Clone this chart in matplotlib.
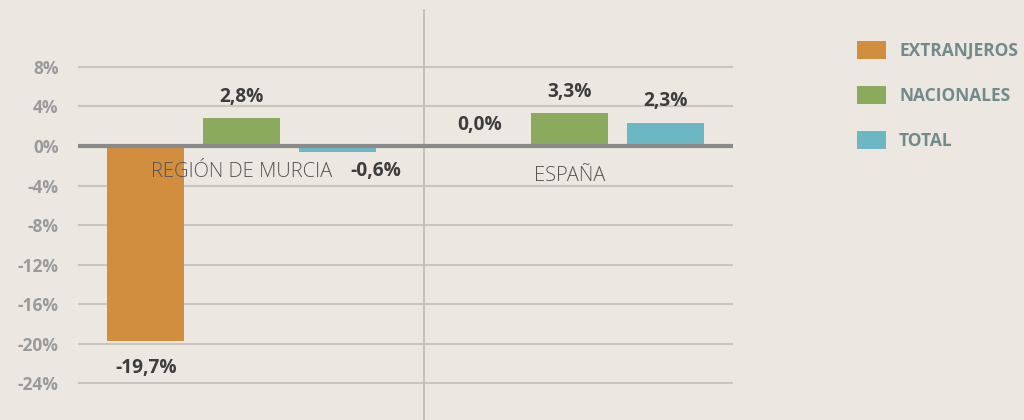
import numpy as np
import matplotlib as mpl
import matplotlib.pyplot as plt
from matplotlib.patches import Patch

mpl.rcParams['font.family'] = 'Open Sans'

# Data
categories = ['REGIÓN DE MURCIA', 'ESPAÑA']
series = ['EXTRANJEROS', 'NACIONALES', 'TOTAL']
extranjeros = [-19.7, 0.0]
nacionales = [2.8, 3.3]
total = [-0.6, 2.3]
yticks = [8, 4, 0, -4, -8, -12, -16, -20, -24]

colors = ['#D08E3E', '#8BAA5E', '#6DB7C4']
bg = '#ECE7E1'

fig = plt.figure(figsize=(10.24, 4.2), dpi=100, facecolor=bg)
ax = fig.add_axes([78 / 1024, 0, 655 / 1024, 1])
ax.set_facecolor(bg)

x = np.arange(len(categories))
w = 0.235
step = 0.293
values = [extranjeros, nacionales, total]
for i, (vals, c) in enumerate(zip(values, colors)):
    ax.bar(x + (i - 1) * step, vals, w, color=c, zorder=2)

ax.set_ylim(-27.7, 14.75)
ax.set_xlim(-0.5, 1.5)

# grid
for t in yticks:
    if t != 0:
        ax.axhline(t, color='#C9C5C0', lw=1.5, zorder=1)
ax.axhline(0, color='#8A8A8A', lw=3, zorder=3)
ax.axvline(0.556, ymax=1 - 10 / 420, color='#BDB9B4', lw=1.2, zorder=1)

ax.set_yticks(yticks)
ax.set_yticklabels([f'{t}%' for t in yticks], fontsize=12.5, fontweight='bold', color='#9A9A9A')
ax.tick_params(axis='y', length=0, pad=14)
ax.set_xticks([])
for s in ax.spines.values():
    s.set_visible(False)

# category labels
ax.text(x[0], -2.6, categories[0], ha='center', va='center', fontsize=14.5,
        fontweight='light', color='#555555', zorder=4)
ax.text(x[1], -3.0, categories[1], ha='center', va='center', fontsize=14.5,
        fontweight='light', color='#555555', zorder=4)

# value labels
lab = dict(fontsize=13.8, fontweight='bold', color='#3D3D3D', ha='center', va='center', zorder=4)
def fmt(v):
    return f'{v:.1f}%'.replace('.', ',')

ax.text(x[0] - step, extranjeros[0] - 2.7, fmt(extranjeros[0]), **lab)
ax.text(x[0], nacionales[0] + 2.15, fmt(nacionales[0]), **lab)
ax.text(x[0] + step + 0.116, total[0] - 1.9, fmt(total[0]), **lab)
ax.text(x[1] - step + 0.02, 2.1, fmt(extranjeros[1]), **lab)
ax.text(x[1], nacionales[1] + 2.15, fmt(nacionales[1]), **lab)
ax.text(x[1] + step, total[1] + 2.25, fmt(total[1]), **lab)

# legend
handles = [Patch(facecolor=c, edgecolor='none') for c in colors]
leg = fig.legend(handles, series, loc='upper left', bbox_to_anchor=(857 / 1024, 1 - 41 / 420),
                 frameon=False, borderpad=0, borderaxespad=0, handlelength=1.67, handleheight=1.26,
                 labelspacing=1.49, handletextpad=0.75,
                 prop={'family': 'Open Sans', 'weight': 'bold', 'size': 12.5})
for t in leg.get_texts():
    t.set_color('#728A89')

fig.savefig('out.png', dpi=100, facecolor=bg)
